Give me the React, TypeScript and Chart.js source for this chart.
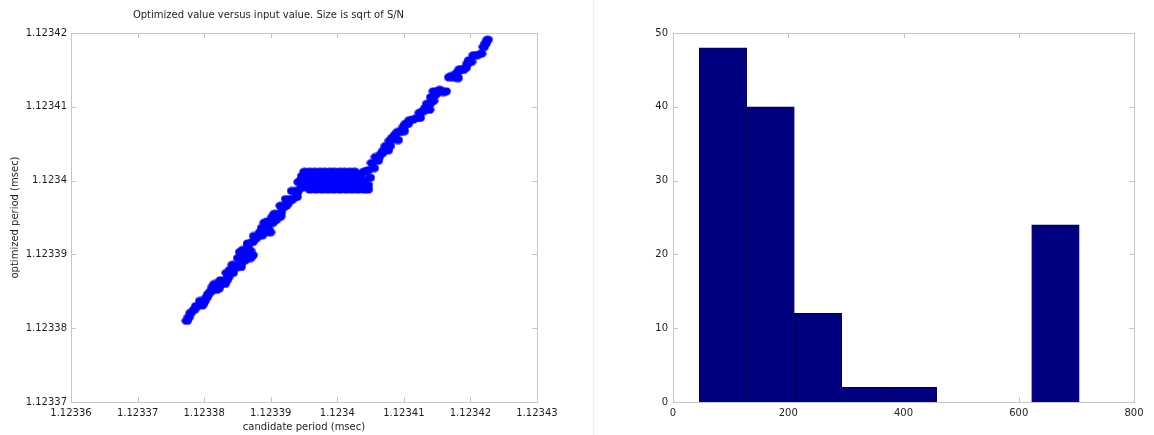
import React, { useEffect, useRef } from 'react';
import { Chart, registerables } from 'chart.js';

Chart.register(...registerables);

// ---------- Data ----------
const candidatePeriod = [
  // lower branch
  1.1233774, 1.123378, 1.1233788, 1.1233797, 1.1233804, 1.123381, 1.1233818, 1.1233816, 1.1233824, 1.1233831,
  1.1233836, 1.1233839, 1.1233848, 1.1233855, 1.1233861, 1.1233854, 1.1233866, 1.1233873, 1.1233878, 1.1233884,
  1.1233891, 1.1233899, 1.1233891, 1.1233903, 1.1233903, 1.1233914, 1.1233918, 1.1233926, 1.1233929, 1.1233939,
  1.1233939, 1.1233948, 1.1233942,
  1.1233777, 1.1233785, 1.1233794, 1.12338, 1.1233806, 1.1233813, 1.1233822, 1.1233825, 1.1233833, 1.1233834,
  1.1233843, 1.1233843, 1.1233854, 1.1233851, 1.1233863, 1.1233869, 1.1233858, 1.1233869, 1.1233866, 1.1233873,
  1.1233875, 1.1233887, 1.1233887, 1.1233896, 1.1233896, 1.1233908, 1.1233906, 1.1233915, 1.1233915, 1.1233923,
  1.1233923, 1.1233933, 1.1233932, 1.1233941,
  // plateau rows
  1.1233951, 1.1233959, 1.1233966, 1.1233974, 1.1233981, 1.1233989, 1.1233996, 1.1234004, 1.1234011, 1.1234019, 1.1234026,
  1.1233947, 1.1233954, 1.1233962, 1.1233969, 1.1233977, 1.1233984, 1.1233992, 1.1233999, 1.1234007, 1.1234014, 1.1234022, 1.1234029, 1.1234034,
  1.1233945, 1.1233954, 1.1233963, 1.1233972, 1.1233981, 1.123399, 1.1233999, 1.1234008, 1.1234017, 1.1234026, 1.1234034, 1.123404,
  1.1233948, 1.1233956, 1.1233963, 1.1233971, 1.1233978, 1.1233986, 1.1233993, 1.1234001, 1.1234008, 1.1234016, 1.1234023, 1.1234031, 1.1234038, 1.1234046,
  1.1233959, 1.1233968, 1.1233977, 1.1233986, 1.1233995, 1.1234004, 1.1234013, 1.1234022, 1.1234031, 1.123404, 1.1234046,
  1.1234049, 1.123404,
  // upper branch
  1.1234046, 1.1234052, 1.1234058, 1.1234061, 1.1234067, 1.1234073, 1.1234076, 1.1234079, 1.1234087, 1.1234091,
  1.1234096, 1.12341, 1.1234106, 1.1234114, 1.1234124, 1.1234129, 1.1234138, 1.1234135, 1.1234144, 1.1234147,
  1.1234145, 1.1234154, 1.1234163, 1.1234168, 1.1234175, 1.1234181, 1.1234184, 1.1234193, 1.1234196, 1.1234201,
  1.1234205, 1.1234216, 1.123422, 1.1234226,
  1.1234055, 1.1234062, 1.123407, 1.1234079, 1.1234083, 1.1234091, 1.12341, 1.1234103, 1.1234109, 1.123412,
  1.1234124, 1.1234132, 1.1234139, 1.1234141, 1.123415, 1.1234159, 1.1234172, 1.123418, 1.1234189, 1.1234198,
  1.123421, 1.1234223,
];
const optimizedPeriod = [
  // lower branch
  1.123381, 1.1233821, 1.123383, 1.1233831, 1.1233842, 1.123385, 1.1233852, 1.123386, 1.1233861, 1.123386,
  1.1233869, 1.1233879, 1.1233882, 1.1233883, 1.1233892, 1.1233903, 1.1233913, 1.1233899, 1.1233922, 1.123393,
  1.1233932, 1.123393, 1.1233943, 1.1233943, 1.1233951, 1.1233951, 1.1233963, 1.123397, 1.1233974, 1.1233978,
  1.1233983, 1.1233991, 1.1233998,
  1.1233815, 1.1233825, 1.1233837, 1.1233836, 1.1233846, 1.1233856, 1.1233854, 1.1233865, 1.1233864, 1.1233875,
  1.1233875, 1.1233886, 1.1233886, 1.1233895, 1.1233897, 1.1233895, 1.1233906, 1.1233905, 1.1233915, 1.1233917,
  1.1233925, 1.1233926, 1.1233936, 1.1233936, 1.1233945, 1.1233947, 1.1233955, 1.1233956, 1.1233966, 1.1233966,
  1.1233975, 1.1233975, 1.1233986, 1.1233987,
  // plateau rows
  1.1234012, 1.1234012, 1.1234012, 1.1234012, 1.1234012, 1.1234012, 1.1234012, 1.1234012, 1.1234012, 1.1234012, 1.1234012,
  1.1234006, 1.1234006, 1.1234006, 1.1234006, 1.1234006, 1.1234006, 1.1234006, 1.1234006, 1.1234006, 1.1234006, 1.1234006, 1.1234006, 1.1234006,
  1.1234, 1.1234, 1.1234, 1.1234, 1.1234, 1.1234, 1.1234, 1.1234, 1.1234, 1.1234, 1.1234, 1.1234,
  1.1233994, 1.1233994, 1.1233994, 1.1233994, 1.1233994, 1.1233994, 1.1233994, 1.1233994, 1.1233994, 1.1233994, 1.1233994, 1.1233994, 1.1233994, 1.1233994,
  1.1233988, 1.1233988, 1.1233988, 1.1233988, 1.1233988, 1.1233988, 1.1233988, 1.1233988, 1.1233988, 1.1233988, 1.1233988,
  1.1234004, 1.1234012,
  // upper branch
  1.1234014, 1.1234024, 1.1234032, 1.1234027, 1.1234037, 1.1234047, 1.1234041, 1.1234054, 1.1234062, 1.1234055,
  1.1234067, 1.1234073, 1.1234077, 1.1234083, 1.1234085, 1.1234094, 1.1234096, 1.1234104, 1.1234108, 1.1234116,
  1.1234121, 1.1234123, 1.1234121, 1.123414, 1.123414, 1.1234139, 1.1234151, 1.1234153, 1.1234159, 1.1234161,
  1.123417, 1.1234172, 1.1234181, 1.1234191,
  1.1234017, 1.1234031, 1.1234041, 1.1234047, 1.1234058, 1.1234066, 1.1234067, 1.1234077, 1.1234082, 1.1234085,
  1.1234092, 1.1234098, 1.1234104, 1.1234113, 1.123412, 1.123412, 1.1234142, 1.1234146, 1.123415, 1.1234163,
  1.123417, 1.1234186,
];
const scatterXTicks = [1.12336, 1.12337, 1.12338, 1.12339, 1.1234, 1.12341, 1.12342, 1.12343];
const scatterYTicks = [1.12337, 1.12338, 1.12339, 1.1234, 1.12341, 1.12342];

const binCenters = [86.9, 169.3, 251.7, 334.1, 416.5, 498.9, 581.3, 663.7];
const binCounts = [48, 40, 12, 2, 2, 0, 0, 24];
const histXTicks = [0, 200, 400, 600, 800];
const histYTicks = [0, 10, 20, 30, 40, 50];

const scatterTitle = 'Optimized value versus input value. Size is sqrt of S/N';
const scatterXLabel = 'candidate period (msec)';
const scatterYLabel = 'optimized period (msec)';

// ---------- Styling helpers ----------
const FONT = "'DejaVu Sans', 'Liberation Sans', sans-serif";
const TEXT = '#1e1e1e';
const BOX = '#c6c6c6';

const boxTicks = {
  id: 'boxTicks',
  beforeDatasetsDraw(chart: any) {
    const { ctx, chartArea: a, scales } = chart;
    const L = 5;
    ctx.save();
    ctx.strokeStyle = BOX;
    ctx.lineWidth = 1;
    ctx.strokeRect(Math.round(a.left) + 0.5, Math.round(a.top) + 0.5,
      Math.round(a.right) - Math.round(a.left), Math.round(a.bottom) - Math.round(a.top));
    ctx.beginPath();
    for (const t of scales.x.ticks) {
      const p = Math.round(scales.x.getPixelForValue(t.value)) + 0.5;
      ctx.moveTo(p, a.bottom); ctx.lineTo(p, a.bottom - L);
      ctx.moveTo(p, a.top); ctx.lineTo(p, a.top + L);
    }
    for (const t of scales.y.ticks) {
      const p = Math.round(scales.y.getPixelForValue(t.value)) + 0.5;
      ctx.moveTo(a.left, p); ctx.lineTo(a.left + L, p);
      ctx.moveTo(a.right, p); ctx.lineTo(a.right - L, p);
    }
    ctx.stroke();
    ctx.restore();
  },
};

const fmt5 = (v: number) => String(Number(Number(v).toFixed(5)));

function makeEllipse() {
  const c = document.createElement('canvas');
  c.width = 11;
  c.height = 9;
  const g = c.getContext('2d')!;
  g.fillStyle = '#0000ff';
  g.beginPath();
  g.ellipse(5.5, 4.5, 5.2, 4.1, 0, 0, Math.PI * 2);
  g.fill();
  return c;
}

export default function App() {
  const leftRef = useRef<HTMLCanvasElement>(null);
  const rightRef = useRef<HTMLCanvasElement>(null);

  useEffect(() => {
    Chart.defaults.font.family = FONT;
    Chart.defaults.font.size = 10;
    Chart.defaults.color = TEXT;
    const marker = makeEllipse();

    const left = new Chart(leftRef.current!, {
      type: 'scatter',
      data: {
        datasets: [{
          data: candidatePeriod.map((x, i) => ({ x, y: optimizedPeriod[i] })),
          pointStyle: marker as any,
          pointRadius: 4.5,
          backgroundColor: '#0000ff',
          borderWidth: 0,
        }],
      },
      options: {
        animation: false,
        responsive: false,
        layout: { padding: { left: 0, right: 43, top: 0, bottom: 0 } },
        plugins: {
          legend: { display: false },
          tooltip: { enabled: false },
          title: {
            display: true,
            text: scatterTitle,
            color: TEXT,
            font: { size: 10, weight: 'normal', family: FONT },
            padding: { top: 9, bottom: 12 },
          },
        },
        scales: {
          x: {
            type: 'linear',
            min: 1.12336,
            max: 1.12343,
            afterBuildTicks: (s: any) => { s.ticks = scatterXTicks.map((v) => ({ value: v })); },
            afterFit: (s: any) => { s.height = 33; },
            grid: { display: false, drawTicks: false },
            border: { display: false },
            ticks: { padding: 5, maxRotation: 0, autoSkip: false, color: TEXT, callback: (v: any) => fmt5(v) },
            title: { display: true, text: scatterXLabel, color: TEXT, padding: { top: 0, bottom: 2 } },
          },
          y: {
            type: 'linear',
            min: 1.12337,
            max: 1.12342,
            afterBuildTicks: (s: any) => { s.ticks = scatterYTicks.map((v) => ({ value: v })); },
            afterFit: (s: any) => { s.width = 71; },
            grid: { display: false, drawTicks: false },
            border: { display: false },
            ticks: { padding: 4, autoSkip: false, color: TEXT, callback: (v: any) => fmt5(v) },
            title: { display: true, text: scatterYLabel, color: TEXT, padding: { top: 9, bottom: 0 } },
          },
        },
      },
      plugins: [boxTicks],
    } as any);

    const right = new Chart(rightRef.current!, {
      type: 'bar',
      data: {
        datasets: [{
          data: binCenters.map((x, i) => ({ x, y: binCounts[i] })),
          backgroundColor: '#000080',
          borderColor: '#00004a',
          borderWidth: 0.8,
          barPercentage: 1,
          categoryPercentage: 1,
        }],
      },
      options: {
        animation: false,
        responsive: false,
        layout: { padding: { left: 0, right: 20, top: 33, bottom: 0 } },
        plugins: { legend: { display: false }, tooltip: { enabled: false } },
        scales: {
          x: {
            type: 'linear',
            min: 0,
            max: 800,
            offset: false,
            afterBuildTicks: (s: any) => { s.ticks = histXTicks.map((v) => ({ value: v })); },
            afterFit: (s: any) => { s.height = 33; },
            grid: { display: false, drawTicks: false },
            border: { display: false },
            ticks: { padding: 5, maxRotation: 0, autoSkip: false, color: TEXT },
          },
          y: {
            type: 'linear',
            min: 0,
            max: 50,
            afterBuildTicks: (s: any) => { s.ticks = histYTicks.map((v) => ({ value: v })); },
            afterFit: (s: any) => { s.width = 79; },
            grid: { display: false, drawTicks: false },
            border: { display: false },
            ticks: { padding: 5, autoSkip: false, color: TEXT },
          },
        },
      },
      plugins: [boxTicks],
    } as any);

    return () => {
      left.destroy();
      right.destroy();
    };
  }, []);

  return (
    <div style={{ position: 'absolute', left: 0, top: 0, width: 1154, height: 435, background: '#fff', overflow: 'hidden' }}>
      <canvas ref={leftRef} width={580} height={435} style={{ position: 'absolute', left: 0, top: 0 }} />
      <div style={{ position: 'absolute', left: 593, top: 0, width: 1, height: 435, background: '#ececec' }} />
      <canvas ref={rightRef} width={560} height={435} style={{ position: 'absolute', left: 594, top: 0 }} />
    </div>
  );
}
